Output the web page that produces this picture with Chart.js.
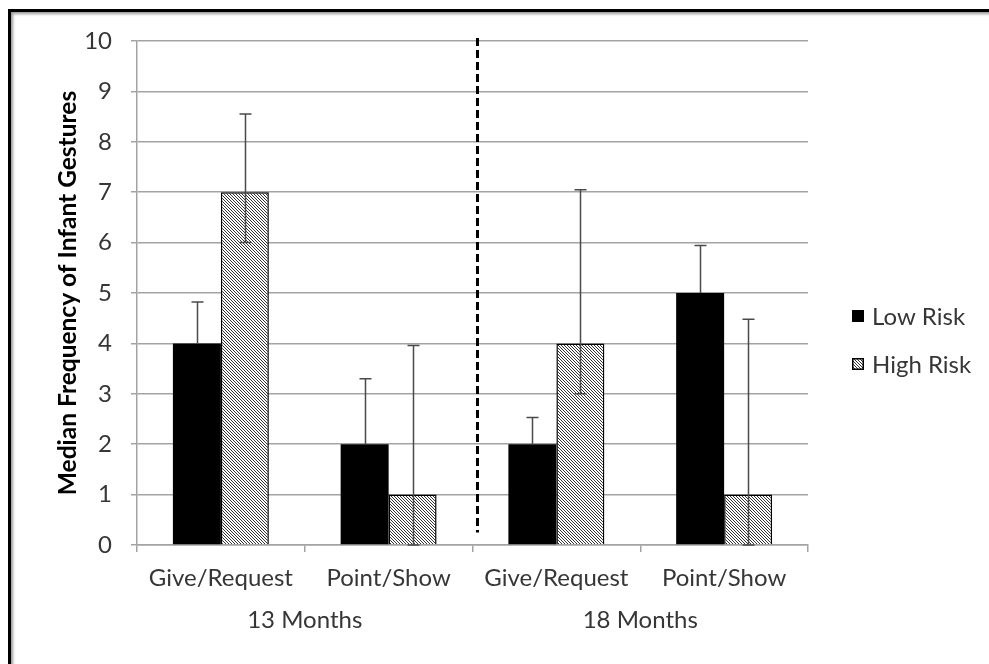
<!DOCTYPE html>
<html>
<head>
<meta charset="utf-8">
<script src="https://cdn.jsdelivr.net/npm/chart.js@4.4.1/dist/chart.umd.min.js"></script>
<style>
  html, body { margin: 0; padding: 0; background: #fff; }
  #wrap { position: relative; width: 989px; height: 664px; overflow: hidden; }
  #frame {
    position: absolute; left: 8px; top: 9px; width: 1000px; height: 700px;
    border-top: 3px solid #000; border-left: 3px solid #000;
    box-shadow: inset 3px 3px 3px -1px #9a9a9a;
  }
  canvas { position: absolute; left: 0; top: 0; }
</style>
</head>
<body>
<div id="wrap">
  <div id="frame"></div>
  <canvas id="chart" width="989" height="664"></canvas>
</div>
<script>
// Gesture types, repeated for each age group
const categories = ['Give/Request', 'Point/Show', 'Give/Request', 'Point/Show'];
const ageGroups = ['13 Months', '18 Months'];

// Median gesture counts
const lowRisk = [4, 2, 2, 5];
const highRisk = [7, 1, 4, 1];

// Error bar ends (upper / lower)
const lowRiskUpper = [4.82, 3.3, 2.53, 5.94];
const lowRiskLower = [null, null, null, null];
const highRiskUpper = [8.55, 3.96, 7.05, 4.48];
const highRiskLower = [6, 0, 3, 0];

// Value axis
const yMin = 0;
const yMax = 10;
const yStep = 1;

const FONT = 'Lato, "Open Sans", sans-serif';
const TEXT = '#363636';
const GRID = '#a3a3a3';

// Diagonal hatch fill for the high-risk bars
function makeHatch() {
  const t = document.createElement('canvas');
  t.width = 3; t.height = 3;
  const g = t.getContext('2d');
  g.fillStyle = '#ffffff';
  g.fillRect(0, 0, 3, 3);
  g.fillStyle = '#333333';
  for (let i = 0; i < 3; i++) g.fillRect(i, i, 1, 1);
  return g.createPattern(t, 'repeat');
}
const hatch = makeHatch();

const errorRanges = [
  { upper: lowRiskUpper, lower: lowRiskLower },
  { upper: highRiskUpper, lower: highRiskLower }
];

// Whiskers with caps on each bar
const errorBars = {
  id: 'errorBars',
  afterDatasetsDraw(chart) {
    const ctx = chart.ctx;
    const ys = chart.scales.y;
    ctx.save();
    ctx.strokeStyle = '#4a4a4a';
    ctx.lineWidth = 1.5;
    chart.data.datasets.forEach((ds, di) => {
      const meta = chart.getDatasetMeta(di);
      const rng = errorRanges[di];
      meta.data.forEach((bar, i) => {
        const x = Math.round(bar.x) + 0.5;
        const base = ys.getPixelForValue(ds.data[i]);
        const cap = 6;
        const up = rng.upper[i];
        const lo = rng.lower[i];
        if (up != null) {
          const yu = ys.getPixelForValue(up);
          ctx.beginPath();
          ctx.moveTo(x, base); ctx.lineTo(x, yu);
          ctx.moveTo(x - cap, yu); ctx.lineTo(x + cap, yu);
          ctx.stroke();
        }
        if (lo != null) {
          const yl = ys.getPixelForValue(lo);
          ctx.beginPath();
          ctx.moveTo(x, base); ctx.lineTo(x, yl);
          ctx.moveTo(x - cap, yl); ctx.lineTo(x + cap, yl);
          ctx.stroke();
        }
      });
    });
    ctx.restore();
  }
};

// Dashed divider between the two age groups
const ageDivider = {
  id: 'ageDivider',
  afterDatasetsDraw(chart) {
    const ctx = chart.ctx;
    const xs = chart.scales.x, ys = chart.scales.y;
    const x = (xs.getPixelForValue(1) + xs.getPixelForValue(2)) / 2 + 5;
    ctx.save();
    ctx.strokeStyle = '#000';
    ctx.lineWidth = 3;
    ctx.setLineDash([8, 4]);
    ctx.beginPath();
    ctx.moveTo(x, ys.getPixelForValue(yMax) - 3);
    ctx.lineTo(x, ys.getPixelForValue(0.25));
    ctx.stroke();
    ctx.restore();
  }
};

// Legend to the right of the plot
const sideLegend = {
  id: 'sideLegend',
  afterDraw(chart) {
    const ctx = chart.ctx;
    const area = chart.chartArea;
    const bx = area.right + 44;
    const rows = [316, 364];
    ctx.save();
    ctx.font = '24px ' + FONT;
    ctx.textBaseline = 'middle';
    ctx.textAlign = 'left';
    chart.data.datasets.forEach((ds, i) => {
      const cy = rows[i];
      ctx.fillStyle = ds.backgroundColor;
      ctx.fillRect(bx, cy - 6, 12, 12);
      ctx.strokeStyle = '#000';
      ctx.lineWidth = 1.5;
      ctx.strokeRect(bx + 0.75, cy - 5.25, 10.5, 10.5);
      ctx.fillStyle = TEXT;
      ctx.fillText(ds.label, bx + 20, cy + 1);
    });
    ctx.restore();
  }
};

new Chart(document.getElementById('chart'), {
  type: 'bar',
  data: {
    labels: categories,
    datasets: [
      {
        label: 'Low Risk', data: lowRisk,
        backgroundColor: '#000000', borderColor: '#000000', borderWidth: 0,
        barPercentage: 1, categoryPercentage: 0.572
      },
      {
        label: 'High Risk', data: highRisk,
        backgroundColor: hatch, borderColor: '#000000', borderWidth: 1.5,
        barPercentage: 1, categoryPercentage: 0.572
      }
    ]
  },
  options: {
    responsive: false,
    devicePixelRatio: 1,
    animation: false,
    layout: { padding: { left: 40, top: 41, right: 181, bottom: 0 } },
    plugins: { legend: { display: false }, tooltip: { enabled: false } },
    scales: {
      x: {
        position: 'bottom',
        grid: { drawOnChartArea: false, drawTicks: true, tickLength: 7, color: GRID, lineWidth: 1.5 },
        border: { color: GRID, width: 1.5 },
        ticks: { color: TEXT, font: { family: FONT, size: 24 }, padding: 12, maxRotation: 0, autoSkip: false },
        afterFit(s) { s.height = 58; }
      },
      age: {
        type: 'category',
        labels: ageGroups,
        position: 'bottom',
        grid: { display: false, drawTicks: false },
        border: { display: false },
        ticks: { color: TEXT, font: { family: FONT, size: 24 }, padding: 3, maxRotation: 0 },
        afterFit(s) { s.height = 61; }
      },
      y: {
        min: yMin, max: yMax,
        ticks: { stepSize: yStep, color: TEXT, font: { family: FONT, size: 24 }, padding: 19 },
        grid: { color: GRID, lineWidth: 1.5, tickLength: 6 },
        border: { color: GRID, width: 1.5 },
        title: {
          display: true, text: 'Median Frequency of Infant Gestures',
          color: '#000', font: { family: FONT, size: 24.5, weight: 'bold' },
          padding: { top: 13, bottom: 0 }
        },
        afterFit(s) { s.width = 97; }
      }
    }
  },
  plugins: [errorBars, ageDivider, sideLegend]
});
</script>
</body>
</html>
